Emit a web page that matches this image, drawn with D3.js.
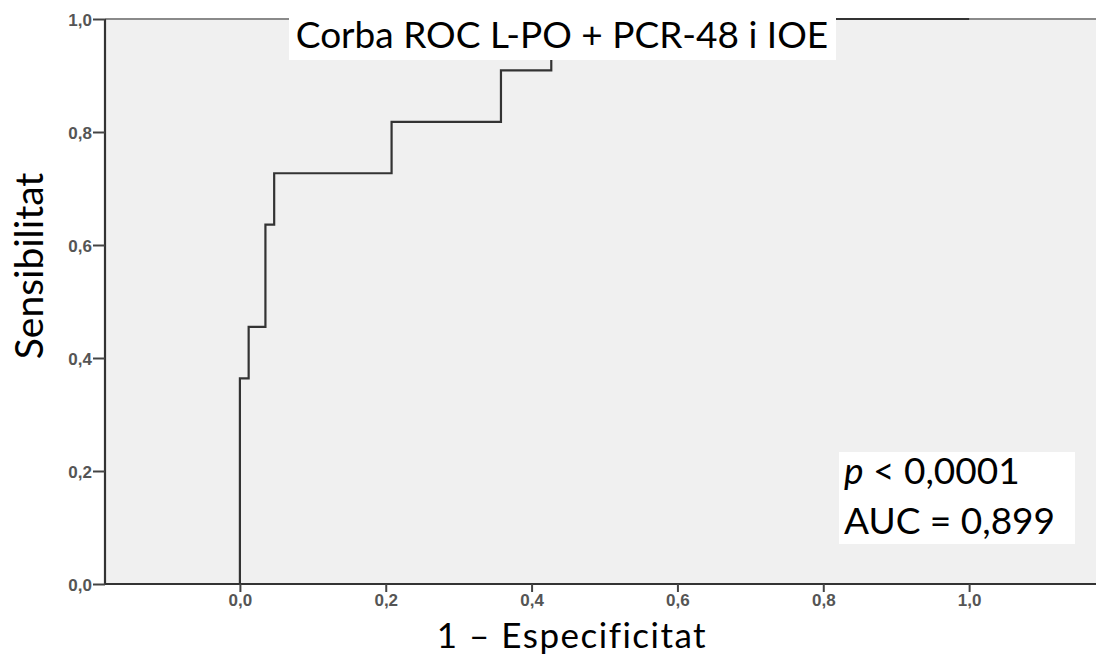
<!DOCTYPE html>
<html>
<head>
<meta charset="utf-8">
<script src="https://cdn.jsdelivr.net/npm/d3@7"></script>
<style>
  body { margin: 0; background: #fff; }
  svg { display: block; }
</style>
</head>
<body>
<svg id="chart" width="1096" height="657"></svg>
<script>
// ROC curve points (1 - specificity, sensitivity)
const fpr = [0, 0, 0.012, 0.012, 0.035, 0.035, 0.047, 0.047, 0.208, 0.208, 0.358, 0.358, 0.427, 0.427, 1.0];
const tpr = [0, 0.364, 0.364, 0.455, 0.455, 0.636, 0.636, 0.727, 0.727, 0.818, 0.818, 0.909, 0.909, 1.0, 1.0];
const xTicks = [0, 0.2, 0.4, 0.6, 0.8, 1.0];
const yTicks = [0, 0.2, 0.4, 0.6, 0.8, 1.0];
const title = "Corba ROC L-PO + PCR-48 i IOE";
const xLabel = "1 \u2013 Especificitat";
const yLabel = "Sensibilitat";
const statLines = ["< 0,0001", "AUC = 0,899"];

var svg = d3.select("#chart");
var plot = { left: 105, right: 1096, top: 19, bottom: 584 };
var bigFont = "Lato, 'Open Sans', sans-serif";

var x = d3.scaleLinear().domain([-0.185, 1.174]).range([plot.left, plot.right]);
var y = d3.scaleLinear().domain([0, 1]).range([plot.bottom, plot.top]);
var fmt = function (d) { return d3.format(".1f")(d).replace(".", ","); };

// plot background
svg.append("rect")
    .attr("x", plot.left).attr("y", plot.top)
    .attr("width", plot.right - plot.left).attr("height", plot.bottom - plot.top)
    .attr("fill", "#f0f0f0");

// top frame line (light)
svg.append("line")
    .attr("x1", plot.left).attr("x2", plot.right)
    .attr("y1", plot.top).attr("y2", plot.top)
    .attr("stroke", "#8a8a8a").attr("stroke-width", 2);

// the curve
var line = d3.line().x(function (d) { return x(d[0]); }).y(function (d) { return y(d[1]); });
svg.append("path")
    .datum(d3.zip(fpr, tpr))
    .attr("d", line)
    .attr("fill", "none")
    .attr("stroke", "#333")
    .attr("stroke-width", 2.2);

// axes
var yAxis = svg.append("g")
    .attr("transform", "translate(" + plot.left + ",0)")
    .call(d3.axisLeft(y).tickValues(yTicks).tickFormat(fmt).tickSize(12).tickPadding(1));
var xAxis = svg.append("g")
    .attr("transform", "translate(0," + plot.bottom + ")")
    .call(d3.axisBottom(x).tickValues(xTicks).tickFormat(fmt).tickSize(8).tickPadding(2));

[xAxis, yAxis].forEach(function (g) {
    g.select(".domain").attr("stroke", "#333").attr("stroke-width", 2.2);
    g.selectAll(".tick line").attr("stroke", "#444").attr("stroke-width", 2);
    g.selectAll(".tick text")
        .attr("fill", "#555")
        .style("font-family", "'Liberation Sans', Arial, sans-serif")
        .style("font-weight", "bold")
        .style("font-size", "17px");
});
yAxis.selectAll(".tick text").attr("dy", "0.4em");
yAxis.select(".domain").attr("d", "M0," + plot.bottom + "V" + plot.top);
xAxis.select(".domain").attr("d", "M" + plot.left + ",0H" + plot.right);

// title box
svg.append("rect")
    .attr("x", 289).attr("y", 0).attr("width", 547).attr("height", 60)
    .attr("fill", "#fff");
svg.append("text")
    .attr("x", 562).attr("y", 48)
    .attr("text-anchor", "middle")
    .style("font-family", bigFont)
    .style("font-size", "37px")
    .attr("fill", "#000")
    .text(title);

// axis labels
svg.append("text")
    .attr("x", 572).attr("y", 648)
    .attr("text-anchor", "middle")
    .style("font-family", bigFont)
    .style("font-size", "35px")
    .style("letter-spacing", "1.5px")
    .text(xLabel);
svg.append("text")
    .attr("transform", "translate(43,266) rotate(-90)")
    .attr("text-anchor", "middle")
    .style("font-family", bigFont)
    .style("font-size", "39px")
    .text(yLabel);

// stats box
svg.append("rect")
    .attr("x", 839).attr("y", 452).attr("width", 236).attr("height", 92)
    .attr("fill", "#fff");
var st = svg.append("text")
    .attr("x", 844).attr("y", 484)
    .style("font-family", bigFont)
    .style("font-size", "37px");
st.append("tspan").style("font-style", "italic").text("p");
st.append("tspan").text(" " + statLines[0]);
svg.append("text")
    .attr("x", 844).attr("y", 534)
    .style("font-family", bigFont)
    .style("font-size", "37px")
    .text(statLines[1]);
</script>
</body>
</html>
